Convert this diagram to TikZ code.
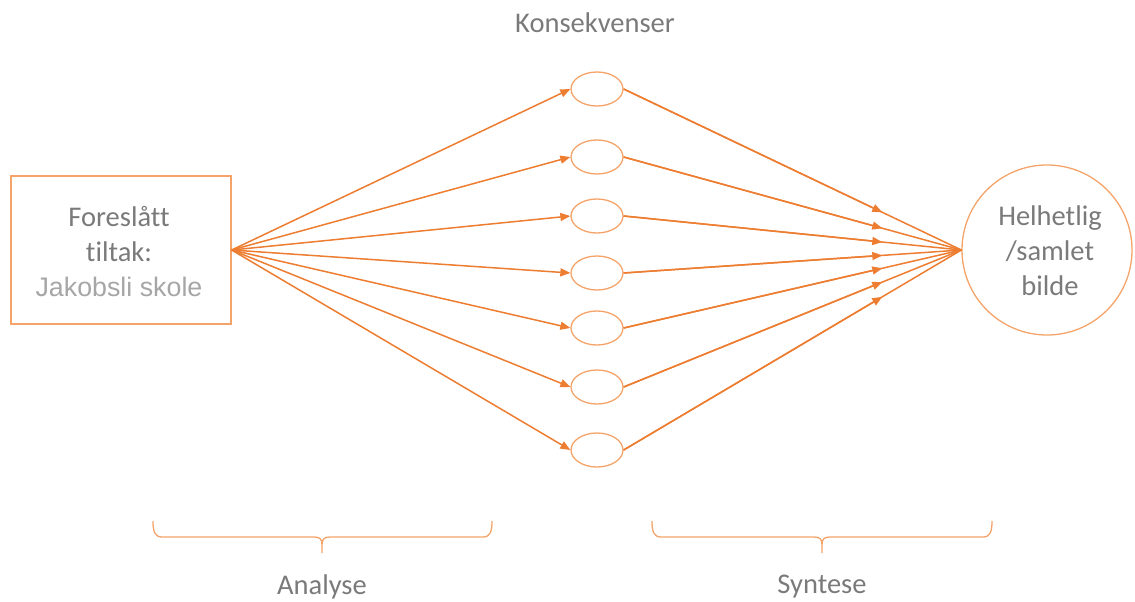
\documentclass[tikz,border=0pt]{standalone}
\usepackage{fontspec}
\setmainfont{Carlito}[Ligatures={NoCommon}]
\newfontfamily\arialf{Liberation Sans}
\usetikzlibrary{arrows.meta,calc,shapes.geometric}
\definecolor{org}{HTML}{ED7D31}
\definecolor{lorg}{HTML}{F4A46A}
\definecolor{txt}{HTML}{7A7A7A}
\definecolor{ltxt}{HTML}{A6A6A6}
\begin{document}
\begin{tikzpicture}[x=1pt,y=-1pt,
  shapeline/.style={draw=lorg, line width=1.3pt},
  conseq/.style={shapeline, ellipse, minimum width=52pt, minimum height=34pt, inner sep=0pt},
  arr/.style={draw=org, line width=1.5pt, -{Triangle[length=10pt,width=8pt]}},
  ln/.style={draw=org, line width=1.5pt},
  lbl/.style={text=txt, font=\fontsize{28.5}{35}\selectfont, align=center, inner sep=0pt},
  bracepath/.style={draw=lorg, line width=1.3pt}
]
\useasboundingbox (0,0) rectangle (1135,602);
\node[shapeline, minimum width=220pt, minimum height=148pt, inner sep=0pt] (box) at (121,250) {};
\node[lbl] (boxtext) at (119,252) {Foreslått\\tiltak:\\{\arialf\fontsize{26.8}{35}\selectfont\color{ltxt}Jakobsli skole}};
\node[shapeline, circle, minimum size=170pt, inner sep=0pt] (whole) at (1047,250) {};
\node[lbl] (wholetext) at (1050,251) {Helhetlig\\/samlet\\bilde};
\node[lbl] (konsek) at (595,23) {Konsekvenser};
\foreach \i/\y in {1/89,2/157,3/216,4/273,5/328,6/387,7/450}{
  \node[conseq] (c\i) at (597,\y) {};
  \draw[arr] (box.east) -- (c\i.west);
  \draw[ln] (c\i.east) -- (whole.west);
  \draw[arr] (c\i.east) -- ($(c\i.east)!0.766!(whole.west)$);
}
\foreach \a/\b/\m/\t/\n in {153/492/322/Analyse/analyse, 652/992/822/Syntese/syntese}{
  \draw[bracepath] (\a,521) .. controls (\a,532) and (\a+2,537) .. (\a+9,537) -- (\m-8,537)
    .. controls (\m-2,537) and (\m,539) .. (\m,545) -- (\m,553)
    (\m,545) .. controls (\m,539) and (\m+2,537) .. (\m+8,537) -- (\b-9,537)
    .. controls (\b-2,537) and (\b,532) .. (\b,521);
  \node[lbl] (\n) at (\m,587) {\t};
}
\end{tikzpicture}
\end{document}
